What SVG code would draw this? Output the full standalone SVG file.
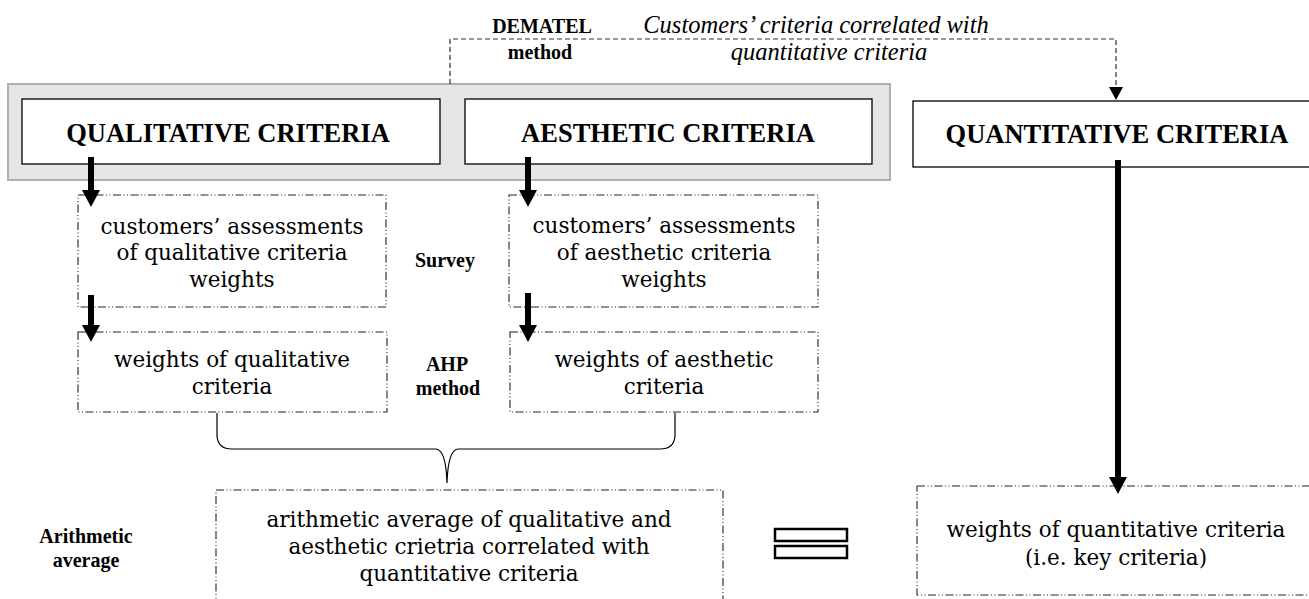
<svg xmlns="http://www.w3.org/2000/svg" width="1309" height="599" viewBox="0 0 1309 599">
<style>
.box{fill:#fff;stroke:#000;stroke-width:1.3}
.dd{fill:#fff;stroke:#222;stroke-width:1.1;stroke-dasharray:8 2.5 1 2.5 1 2.5}
.hdr{font-family:"Liberation Serif",serif;font-weight:bold;font-size:26.5px;text-anchor:middle;fill:#000}
.body{font-family:"DejaVu Serif",serif;font-size:21.5px;text-anchor:middle;fill:#000}
.lbl{font-family:"Liberation Serif",serif;font-weight:bold;font-size:20px;text-anchor:middle;fill:#000}
.it{font-family:"Liberation Serif",serif;font-style:italic;font-size:24.5px;text-anchor:middle;fill:#000}
.thick{stroke:#000;stroke-width:6;fill:none}
.dash{stroke:#333;stroke-width:1.2;stroke-dasharray:5 3;fill:none}
</style>
<defs>
<marker id="bigHead" markerUnits="userSpaceOnUse" markerWidth="17" markerHeight="18" viewBox="0 0 17 18" refX="5" refY="9" orient="auto">
<path d="M0,0 L17,9 L0,18 Z" fill="#000"/>
</marker>
</defs>
<rect width="1309" height="599" fill="#fff"/>
<g id="panel">
<rect x="8" y="84" width="882" height="96" fill="#e6e6e6" stroke="#b0b0b0" stroke-width="2"/>
</g>
<g id="node-qualitative">
<rect class="box" x="22" y="99" width="418" height="65"/>
<text class="hdr" x="228" y="142">QUALITATIVE CRITERIA</text>
</g>
<g id="node-aesthetic">
<rect class="box" x="465" y="99" width="407" height="65"/>
<text class="hdr" x="668" y="142">AESTHETIC CRITERIA</text>
</g>
<g id="node-quantitative">
<rect class="box" x="913" y="101" width="410" height="66"/>
<text class="hdr" x="1117" y="143">QUANTITATIVE CRITERIA</text>
</g>
<g id="node-cust-qual">
<rect class="dd" x="78" y="195" width="308" height="112"/>
<text class="body" x="232" y="234">customers’ assessments</text>
<text class="body" x="232" y="260">of qualitative criteria</text>
<text class="body" x="232" y="287">weights</text>
</g>
<g id="node-cust-aest">
<rect class="dd" x="509" y="195" width="309" height="112"/>
<text class="body" x="664" y="233">customers’ assessments</text>
<text class="body" x="664" y="260">of aesthetic criteria</text>
<text class="body" x="664" y="287">weights</text>
</g>
<g id="node-w-qual">
<rect class="dd" x="78" y="332" width="309" height="80"/>
<text class="body" x="232" y="367">weights of qualitative</text>
<text class="body" x="232" y="394">criteria</text>
</g>
<g id="node-w-aest">
<rect class="dd" x="510" y="332" width="308" height="80"/>
<text class="body" x="664" y="367">weights of aesthetic</text>
<text class="body" x="664" y="394">criteria</text>
</g>
<g id="node-average">
<rect class="dd" x="216" y="490" width="507" height="130"/>
<text class="body" x="469" y="527">arithmetic average of qualitative and</text>
<text class="body" x="469" y="554">aesthetic crietria correlated with</text>
<text class="body" x="469" y="581">quantitative criteria</text>
</g>
<g id="node-w-quant">
<rect class="dd" x="917" y="486" width="410" height="109"/>
<text class="body" x="1116" y="537">weights of quantitative criteria</text>
<text class="body" x="1116" y="565">(i.e. key criteria)</text>
</g>
<g id="labels">
<text class="lbl" x="542" y="33">DEMATEL</text>
<text class="lbl" x="540" y="59">method</text>
<text class="it" x="816" y="33">Customers’ criteria correlated with</text>
<text class="it" x="829" y="60">quantitative criteria</text>
<text class="lbl" x="445" y="267">Survey</text>
<text class="lbl" x="447" y="371">AHP</text>
<text class="lbl" x="448" y="395">method</text>
<text class="lbl" x="86" y="543">Arithmetic</text>
<text class="lbl" x="86" y="567">average</text>
</g>
<g id="equals">
<rect x="775" y="529" width="72" height="12" fill="#fff" stroke="#000" stroke-width="2.5"/>
<rect x="775" y="546" width="72" height="12" fill="#fff" stroke="#000" stroke-width="2.5"/>
</g>
<g id="connectors">
<path class="dash" d="M450,84 L450,39 L1116,39 L1116,88"/>
<path d="M1109,87 L1123,87 L1116,100 Z" fill="#000"/>
<line class="thick" x1="91" y1="157" x2="91" y2="195" marker-end="url(#bigHead)"/>
<line class="thick" x1="528" y1="157" x2="528" y2="195" marker-end="url(#bigHead)"/>
<line class="thick" x1="91" y1="295" x2="91" y2="330" marker-end="url(#bigHead)"/>
<line class="thick" x1="528" y1="293" x2="528" y2="330" marker-end="url(#bigHead)"/>
<line class="thick" x1="1118" y1="160" x2="1118" y2="482" marker-end="url(#bigHead)"/>
<path d="M217,413 L217,436 Q218,449 232,449 L436,449 Q446,450 447,483 Q448,450 458,449 L660,449 Q674,449 675,436 L675,413" fill="none" stroke="#000" stroke-width="1.2"/>
</g>
</svg>
